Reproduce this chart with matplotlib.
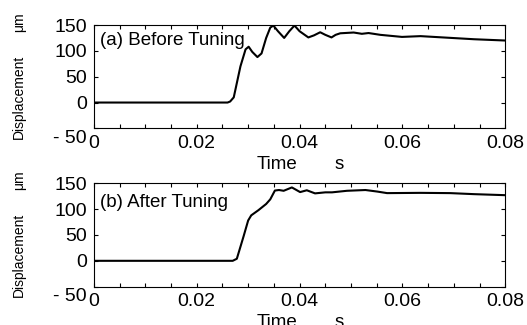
"""Displacement step response before / after tuning."""

import matplotlib
matplotlib.use('Agg')
import matplotlib.pyplot as plt
from matplotlib import font_manager
from matplotlib.ticker import MultipleLocator, FuncFormatter

# before tuning (time s, displacement um)
t_before = [0, 0.026, 0.0265, 0.0272, 0.0285, 0.0295, 0.0301, 0.0308, 0.0318,
            0.0326, 0.0335, 0.0343, 0.0349, 0.0358, 0.0370, 0.0380, 0.0390,
            0.0400, 0.0417, 0.0428, 0.0440, 0.0450, 0.0462, 0.0470, 0.0479,
            0.0505, 0.0521, 0.0534, 0.0557, 0.0599, 0.0635, 0.0687, 0.0739, 0.08]
d_before = [0, 0, 2, 10, 70, 103, 108, 98, 88,
            95, 125, 145, 149, 138, 125, 138, 149,
            138, 126, 130, 136, 131, 126, 131, 134,
            135.5, 133, 134.5, 131, 127, 128.5, 125.5, 122.5, 120]

# after tuning
t_after = [0, 0.027, 0.0278, 0.0291, 0.0300, 0.0306, 0.0320, 0.0335, 0.0343,
           0.0352, 0.0360, 0.0369, 0.0385, 0.0401, 0.0414, 0.0430, 0.0450,
           0.0463, 0.0492, 0.0528, 0.0551, 0.0570, 0.0635, 0.0693, 0.0739, 0.08]
d_after = [0, 0, 4, 47, 78, 88, 98, 110, 119,
           136, 137, 135.5, 142, 133, 136.5, 130.5, 132.5,
           132.5, 135.5, 137, 134, 131, 131.5, 131, 129, 127]

panel_titles = ['(a) Before Tuning', '(b) After Tuning']
x_ticks = [0, 0.02, 0.04, 0.06, 0.08]
x_labels = ['0', '0.02', '0.04', '0.06', '0.08']
y_ticks = [-50, 0, 50, 100, 150]

names = {f.name for f in font_manager.fontManager.ttflist}
narrow = 'Liberation Sans Narrow' if 'Liberation Sans Narrow' in names else 'Liberation Sans'
plt.rcParams['font.family'] = ['Liberation Sans', 'DejaVu Sans']

fig = plt.figure(figsize=(5.27, 3.25), dpi=100)
boxes = [[0.178, 0.605, 0.781, 0.318], [0.178, 0.118, 0.781, 0.318]]
series = [(t_before, d_before), (t_after, d_after)]
title_y = [0.806, 0.774]


def ylab(v, _):
    # the -50 label sits lower than its tick, drawn separately below
    return '' if v < 0 else f'{v:g}'


for i, (box, (t, d)) in enumerate(zip(boxes, series)):
    ax = fig.add_axes(box)
    ax.plot(t, d, color='black', lw=1.5)
    ax.set_xlim(0, 0.08)
    ax.set_ylim(-50, 150)
    ax.set_xticks(x_ticks)
    ax.set_xticklabels(x_labels)
    ax.xaxis.set_minor_locator(MultipleLocator(0.005))
    ax.set_yticks(y_ticks)
    ax.yaxis.set_major_formatter(FuncFormatter(ylab))
    ax.tick_params(which='both', direction='in', top=True, right=True,
                   length=3, width=0.8, labelsize=14)
    ax.tick_params(axis='x', pad=4.5)
    ax.tick_params(axis='y', pad=5)
    for s in ax.spines.values():
        s.set_linewidth(0.8)
    ax.annotate('- 50', xy=(0, y_ticks[0]), xycoords=ax.get_yaxis_transform(),
                xytext=(-5, -7), textcoords='offset points',
                ha='right', va='center', fontsize=14)
    ax.text(0.016, title_y[i], panel_titles[i], transform=ax.transAxes,
            fontsize=13.5, va='baseline', ha='left')
    ax.text(-0.182, 0.305, 'Displacement', transform=ax.transAxes,
            rotation=90, ha='center', va='center', fontsize=10, family=narrow)
    ax.text(-0.182, 1.03, 'μm', transform=ax.transAxes,
            rotation=90, ha='center', va='center', fontsize=10, family=narrow)
    ax.text(0.444, -0.265, 'Time', transform=ax.transAxes,
            ha='center', va='top', fontsize=13.5)
    ax.text(0.595, -0.265, 's', transform=ax.transAxes,
            ha='center', va='top', fontsize=13.5)

fig.savefig('out.png', dpi=100)
